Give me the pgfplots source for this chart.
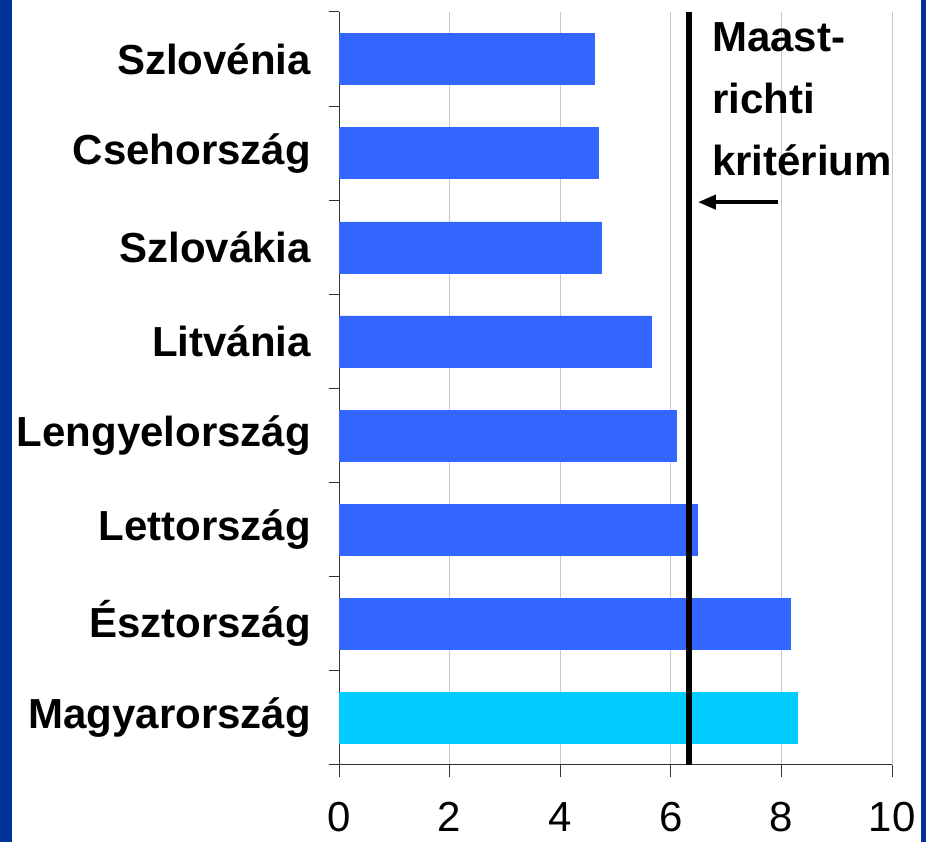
\documentclass[border=0pt]{standalone}
\usepackage{fontspec}
\setmainfont{Liberation Sans}
\usepackage{pgfplots}
\pgfplotsset{compat=1.18}
\usetikzlibrary{arrows.meta}
\definecolor{barblue}{RGB}{51,102,255}
\definecolor{barcyan}{RGB}{0,204,255}
\definecolor{frameblue}{RGB}{0,51,153}
\definecolor{gridgray}{RGB}{200,200,200}
\begin{document}
\begin{tikzpicture}
\path[use as bounding box] (0,0) rectangle (926pt,842pt);
\fill[white] (0,0) rectangle (926pt,842pt);
\fill[frameblue] (0,0) rectangle (12pt,842pt);
\fill[frameblue] (921pt,0) rectangle (926pt,842pt);
\begin{axis}[
  at={(339pt,77pt)}, anchor=south west,
  width=553pt, height=753pt, scale only axis,
  xmin=0, xmax=10, ymin=0.5, ymax=8.5,
  axis x line=bottom, axis y line=left,
  axis line style={-, draw=black!80, line width=1pt},
  xtick={0,2,4,6,8,10},
  xmajorgrids, grid style={gridgray, line width=0.8pt},
  tick align=outside,
  x tick style={black!80, line width=1pt},
  major tick length=12pt,
  ytick={1,...,8},
  yticklabels={Magyarország,Észtország,Lettország,Lengyelország,Litvánia,Szlovákia,Csehország,Szlovénia},
  y tick style={draw=none},
  minor ytick={0.5,1.5,...,8.5},
  minor y tick style={draw=black!80, line width=1pt},
  minor tick length=10pt,
  /pgf/number format/assume math mode=true,
  xticklabel style={font=\fontsize{42}{48}\selectfont, inner sep=0pt, yshift=-25pt},
  yticklabel style={font=\fontsize{42}{48}\selectfont\bfseries, inner sep=0pt, anchor=east, xshift=-16pt},
  clip=false,
]
\addplot[xbar, bar width=51pt, bar shift=0pt, fill=barblue, draw=barblue]
  coordinates {(8.16,2) (6.47,3) (6.09,4) (5.64,5) (4.74,6) (4.68,7) (4.61,8)};
\addplot[xbar, bar width=51pt, bar shift=0pt, fill=barcyan, draw=barcyan]
  coordinates {(8.29,1)};
\addplot[black, line width=6pt] coordinates {(6.32,0.5) (6.32,8.5)};
\node[anchor=north west, inner sep=0pt, align=left, font=\fontsize{42}{62}\selectfont\bfseries]
  at (axis cs:6.745,8.394) {Maast-\\richti\\kritérium};
\draw[line width=4pt, -{Triangle[length=18pt,width=14pt]}] (axis cs:7.94,6.48) -- (axis cs:6.49,6.48);
\end{axis}
\end{tikzpicture}
\end{document}
